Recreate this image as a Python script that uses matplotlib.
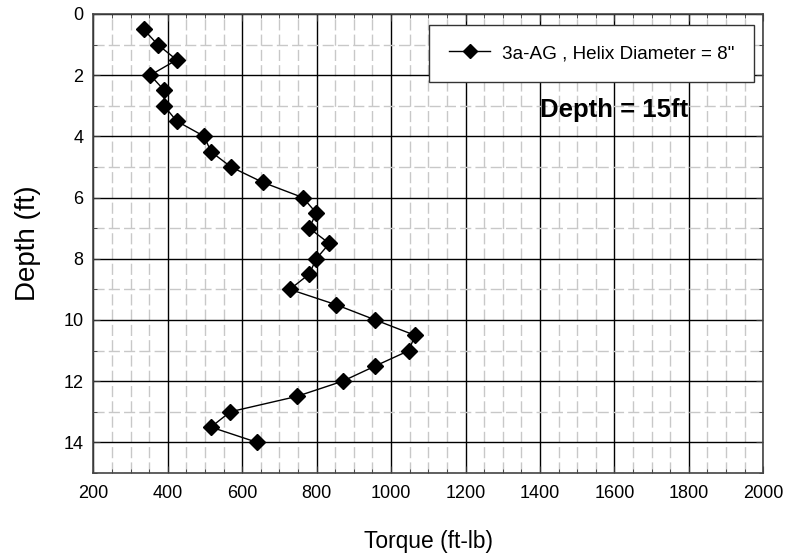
import matplotlib
matplotlib.use("Agg")
import matplotlib.pyplot as plt
from matplotlib.ticker import MultipleLocator

plt.rcParams['font.family'] = ['Liberation Sans', 'DejaVu Sans']

depth = [0.5, 1.0, 1.5, 2.0, 2.5, 3.0, 3.5, 4.0, 4.5, 5.0, 5.5, 6.0, 6.5, 7.0,
         7.5, 8.0, 8.5, 9.0, 9.5, 10.0, 10.5, 11.0, 11.5, 12.0, 12.5, 13.0, 13.5, 14.0]
torque = [335, 373, 424, 353, 391, 390, 424, 498, 516, 570, 655, 763, 799, 780,
          834, 799, 780, 728, 852, 958, 1064, 1048, 958, 870, 746, 568, 516, 640]
series_label = '3a-AG , Helix Diameter = 8"'
annotation = 'Depth = 15ft'
xticks = [200, 400, 600, 800, 1000, 1200, 1400, 1600, 1800, 2000]
yticks = [0, 2, 4, 6, 8, 10, 12, 14]

fig = plt.figure(figsize=(7.97, 5.53), dpi=100)
ax = fig.add_axes([0.1171, 0.1447, 0.8406, 0.8300])

ax.set_xlim(200, 2000)
ax.set_ylim(15, 0)
ax.set_xticks(xticks)
ax.set_yticks(yticks)
ax.xaxis.set_minor_locator(MultipleLocator(50))
ax.yaxis.set_minor_locator(MultipleLocator(1))

ax.grid(which='minor', color='#c8c8c8', linestyle=(0, (8, 3)), linewidth=1.0, zorder=0)
ax.grid(which='major', color='black', linestyle='-', linewidth=1.0, zorder=1)
ax.set_axisbelow(True)

ax.tick_params(which='both', direction='in', top=True, right=True, labelsize=13,
               color='#333333')
ax.tick_params(which='major', length=5)
ax.tick_params(axis='x', which='major', pad=9)
ax.tick_params(axis='y', which='major', pad=7)
ax.tick_params(which='minor', length=3)
for s in ax.spines.values():
    s.set_color('#444444')
    s.set_linewidth(1.2)

ax.plot(torque, depth, color='black', linewidth=1.0, marker='D', markersize=8.5,
        markerfacecolor='black', markeredgecolor='black', label=series_label, zorder=3)

leg = ax.legend(loc='upper right', bbox_to_anchor=(0.986, 0.976), fontsize=13.6,
                frameon=True, fancybox=False, framealpha=1, edgecolor='#333333',
                borderpad=1.05, handlelength=2.2, handletextpad=0.6,
                borderaxespad=0, markerscale=0.8)
leg.get_frame().set_linewidth(1.0)
leg.get_frame().set_facecolor('white')
leg.set_zorder(5)

ax.text(1600, 3.15, annotation, fontsize=18.5, fontweight='bold', ha='center', va='center',
        zorder=4)

ax.set_xlabel('Torque (ft-lb)', fontsize=16.4, labelpad=20)
ax.set_ylabel('Depth (ft)', fontsize=20, labelpad=16)

fig.savefig('out.png', dpi=100)
